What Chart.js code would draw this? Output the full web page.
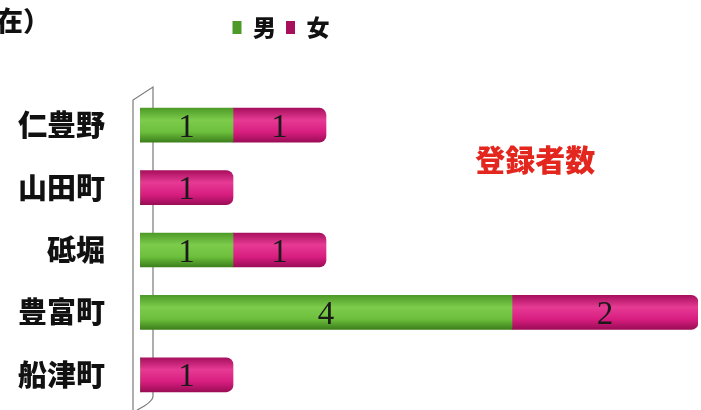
<!DOCTYPE html>
<html>
<head>
<meta charset="utf-8">
<script src="https://cdn.jsdelivr.net/npm/chart.js@4.4.0/dist/chart.umd.min.js"></script>
<style>
  html, body { margin: 0; padding: 0; background: #fff; }
  #wrap { width: 701px; height: 410px; }
</style>
</head>
<body>
<div id="wrap"><canvas id="chart"></canvas></div>
<script>
var areas = ['仁豊野', '山田町', '砥堀', '豊富町', '船津町'];
var male = [1, 0, 1, 4, 0];
var female = [1, 1, 1, 2, 1];
var seriesNames = ['男', '女'];
var xMax = 6;
var headNote = '在）';
var boxNote = '登録者数';

// cylinder look: vertical gradient across each bar
function tube(c, flat, stops) {
  var y = c.chart.scales.y;
  if (!y || c.dataIndex === undefined) return flat;
  var cy = y.getPixelForValue(c.dataIndex);
  if (!isFinite(cy)) return flat;
  var g = c.chart.ctx.createLinearGradient(0, cy - 17, 0, cy + 17);
  g.addColorStop(0, stops[0]);
  g.addColorStop(0.35, stops[1]);
  g.addColorStop(0.7, stops[2]);
  g.addColorStop(1, stops[3]);
  return g;
}

var wallPlugin = {
  id: 'wall',
  beforeDatasetsDraw: function(chart) {
    var a = chart.chartArea, ctx = chart.ctx;
    ctx.save();
    ctx.strokeStyle = '#7a7a7a';
    ctx.lineWidth = 1.2;
    ctx.beginPath();
    ctx.moveTo(a.left - 7, a.bottom + 6);
    ctx.lineTo(a.left - 7, a.top + 6);
    ctx.lineTo(a.left + 13, a.top - 7);
    ctx.lineTo(a.left + 13, a.bottom - 10);
    ctx.quadraticCurveTo(a.left + 13, a.bottom - 4, a.left - 3, a.bottom + 4);
    ctx.stroke();
    ctx.restore();
  }
};

var labelPlugin = {
  id: 'valueLabels',
  afterDatasetsDraw: function(chart) {
    var ctx = chart.ctx;
    ctx.save();
    ctx.font = '33px "Liberation Serif"';
    ctx.fillStyle = '#1a1a1a';
    ctx.textAlign = 'center';
    ctx.textBaseline = 'middle';
    chart.data.datasets.forEach(function(ds, i) {
      chart.getDatasetMeta(i).data.forEach(function(bar, j) {
        if (!ds.data[j]) return;
        var p = bar.getCenterPoint();
        ctx.fillText(ds.data[j], p.x, p.y + 3);
      });
    });
    ctx.restore();
  }
};

var notesPlugin = {
  id: 'notes',
  afterLayout: function(chart) {
    // legend sits left of centre in the original
    var lg = chart.legend;
    lg.left = 0;
    lg.right = 562;
  },
  afterDraw: function(chart) {
    var ctx = chart.ctx, x = chart.scales.x, y = chart.scales.y;
    ctx.save();
    ctx.textBaseline = 'middle';
    ctx.font = '900 27px "Noto Sans CJK JP"';
    ctx.fillStyle = '#111';
    ctx.textAlign = 'left';
    ctx.fillText(headNote, -4, 21);
    ctx.font = '900 30px "Noto Sans CJK JP"';
    ctx.fillStyle = '#e3261e';
    ctx.textAlign = 'center';
    ctx.fillText(boxNote, x.getPixelForValue(4.25), y.getPixelForValue(0.55));
    ctx.restore();
  }
};

var chart = new Chart(document.getElementById('chart').getContext('2d'), {
  type: 'bar',
  data: {
    labels: areas,
    datasets: [{
      label: seriesNames[0],
      data: male,
      backgroundColor: function(c) {
        return tube(c, '#6cbf3c', ['#4e9a28', '#7dcc4b', '#6cbf3c', '#3d7f1c']);
      },
      barThickness: 34,
      borderRadius: 7,
      borderSkipped: 'start'
    }, {
      label: seriesNames[1],
      data: female,
      backgroundColor: function(c) {
        return tube(c, '#d81e80', ['#a8105e', '#e63a94', '#d81e80', '#9c0c56']);
      },
      barThickness: 34,
      borderRadius: 7,
      borderSkipped: 'start'
    }]
  },
  plugins: [wallPlugin, labelPlugin, notesPlugin],
  options: {
    indexAxis: 'y',
    responsive: true,
    maintainAspectRatio: false,
    animation: false,
    layout: {
      padding: { top: 6, left: 18, right: 3, bottom: 4 }
    },
    plugins: {
      legend: {
        display: true,
        position: 'top',
        labels: {
          boxWidth: 9,
          boxHeight: 13,
          padding: 10,
          color: '#111',
          font: { family: '"Noto Sans CJK JP"', size: 23, weight: '900' }
        }
      },
      subtitle: {
        display: true,
        text: '',
        position: 'top',
        weight: 500,
        font: { size: 10, lineHeight: 1 },
        padding: { top: 0, bottom: 35 }
      },
      tooltip: { enabled: false }
    },
    scales: {
      x: {
        stacked: true,
        min: 0,
        max: xMax,
        display: false
      },
      y: {
        stacked: true,
        grid: { display: false, drawTicks: false },
        border: { display: false },
        ticks: {
          padding: 35,
          color: '#111',
          font: { family: '"Noto Sans CJK JP"', size: 29, weight: '900' }
        },
        afterFit: function(scale) {
          scale.width -= 35;
          scale.paddingTop = 0;
          scale.paddingBottom = 0;
        }
      }
    }
  }
});
</script>
</body>
</html>
